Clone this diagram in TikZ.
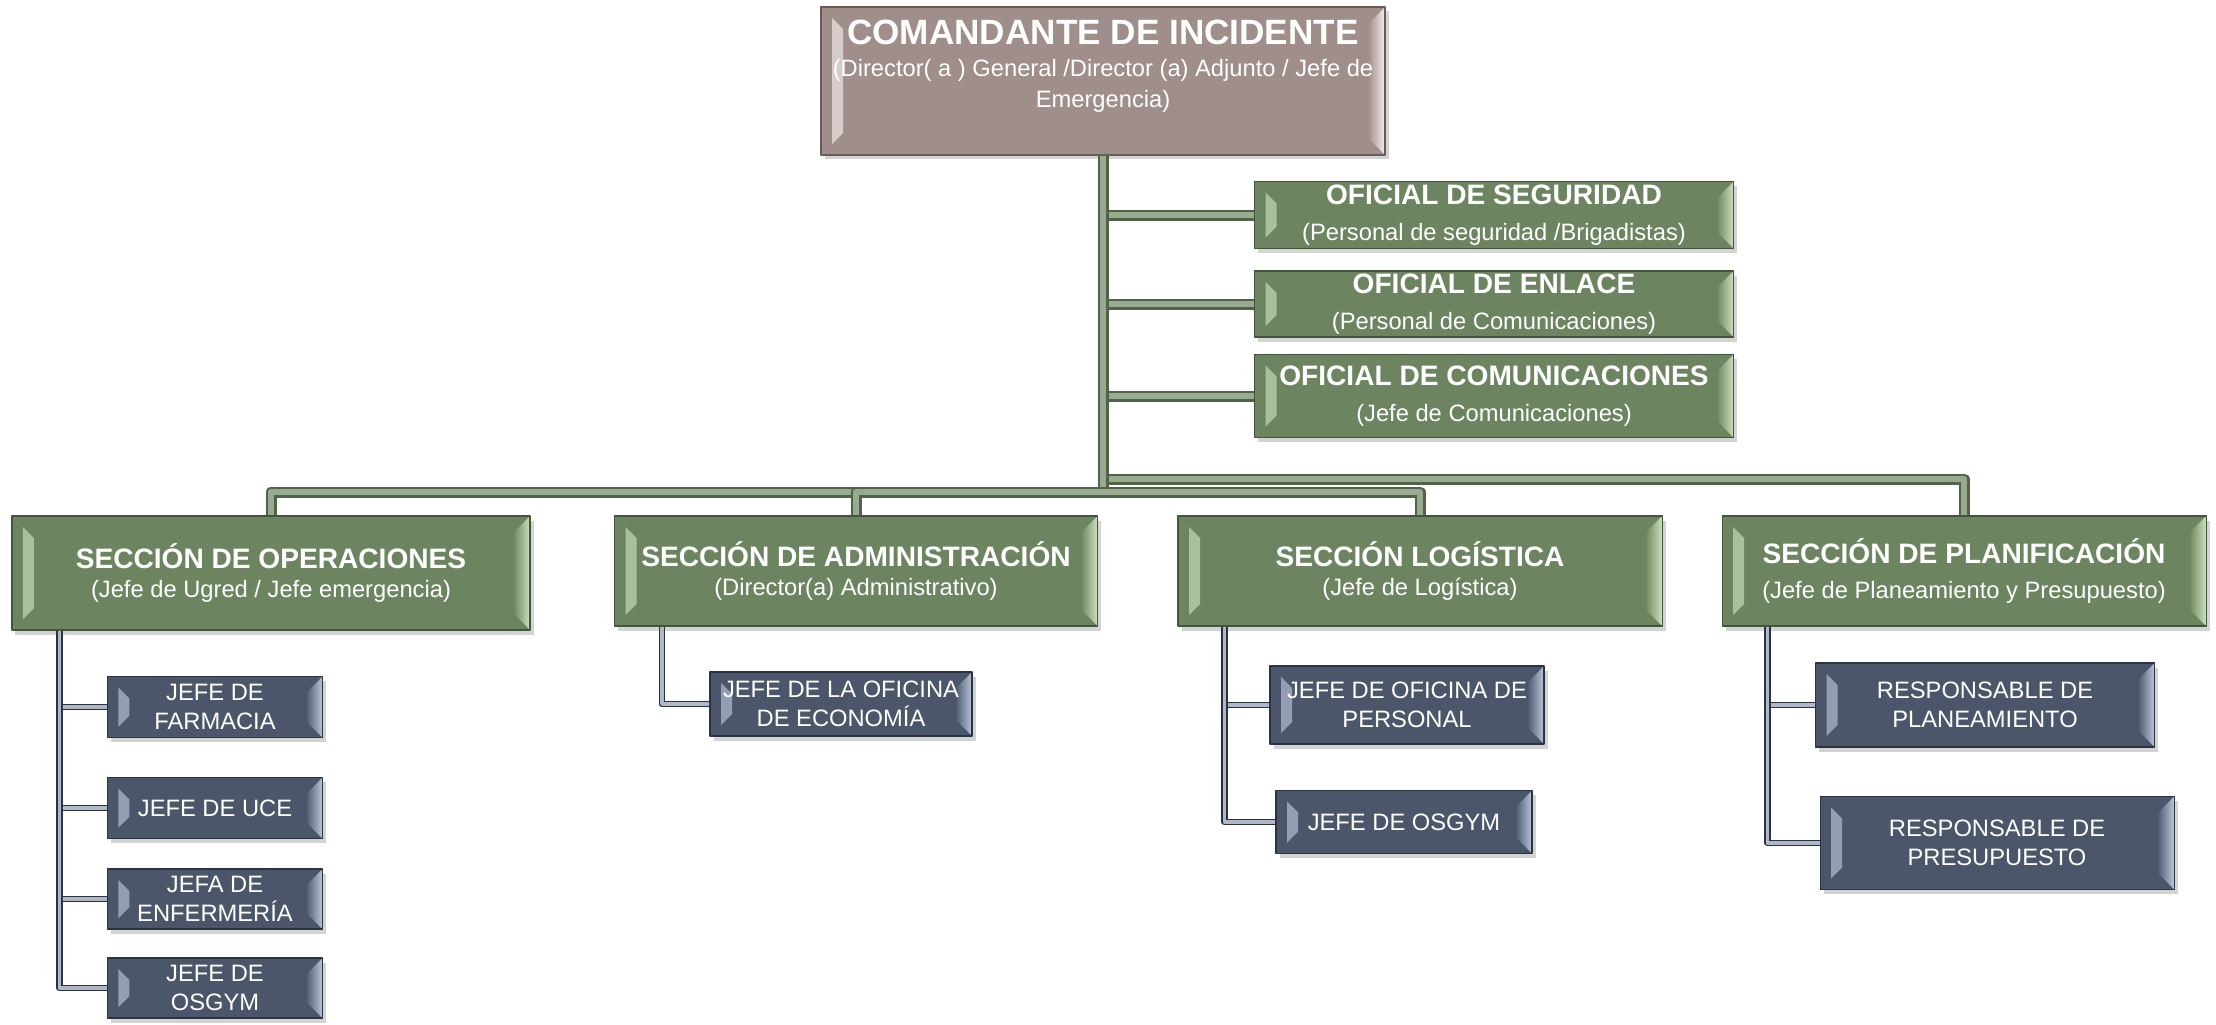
\documentclass[tikz,border=0pt]{standalone}
\usepackage{fontspec}
\setmainfont{Liberation Sans}
\usetikzlibrary{shadows}
\definecolor{cibox}{HTML}{9F8E8A}
\definecolor{cilight}{HTML}{F4EEEC}
\definecolor{cidark}{HTML}{6A5B57}
\definecolor{secgreen}{HTML}{6C8560}
\definecolor{seclight}{HTML}{CCE0BD}
\definecolor{secdark}{HTML}{43553A}
\definecolor{subslate}{HTML}{4C566B}
\definecolor{sublight}{HTML}{BAC6DA}
\definecolor{subdark}{HTML}{2B3342}
\newcommand\cmdttl{\bfseries\fontsize{20}{24}\selectfont}
\newcommand\secttl{\bfseries\fontsize{16}{19}\selectfont}
\tikzset{
  bevelbox/.style n args={3}{draw=#3, line width=0.6pt, fill=#1, text=white, inner sep=0pt, align=center,
    drop shadow={shadow xshift=0.07cm, shadow yshift=-0.09cm, opacity=0.35},
    path picture={
      \fill[#2, opacity=0.65] ([shift={(0.22cm,-0.22cm)}]path picture bounding box.north west)
        -- ([shift={(0.22cm,0.22cm)}]path picture bounding box.south west)
        -- ([shift={(0.44cm,0.44cm)}]path picture bounding box.south west)
        -- ([shift={(0.44cm,-0.44cm)}]path picture bounding box.north west) -- cycle;
      \shade[left color=#1, right color=#2] ([shift={(-0.34cm,-0.34cm)}]path picture bounding box.north east)
        -- (path picture bounding box.north east) -- (path picture bounding box.south east)
        -- ([shift={(-0.34cm,0.34cm)}]path picture bounding box.south east) -- cycle;
    }},
  cmdbox/.style={bevelbox={cibox}{cilight}{cidark}},
  secbox/.style={bevelbox={secgreen}{seclight}{secdark}},
  unitbox/.style={bevelbox={subslate}{sublight}{subdark}},
  sz/.style 2 args={minimum width=#1*0.02cm, minimum height=#2*0.02cm},
  gline/.style={draw=secgreen!75!black, line width=0.05cm, double=secgreen!70!white, double distance=0.12cm},
  sline/.style={draw=subdark, line width=0.03cm, double=sublight!80!gray, double distance=0.07cm},
}
\begin{document}
\begin{tikzpicture}[x=0.02cm,y=-0.02cm,font=\fontsize{13.5}{16.5}\selectfont,line join=round]
\useasboundingbox (0,0) rectangle (2216,1024);
% commander and officers
\node[cmdbox,sz={564}{148},text depth=0.7cm] (ci) at (1103,81) {{\cmdttl COMANDANTE DE INCIDENTE}\\[2pt](Director( a ) General /Director (a) Adjunto / Jefe de\\[1pt]Emergencia)};
\node[secbox,sz={479}{67}] (seg) at (1494,215) {{\secttl OFICIAL DE SEGURIDAD}\\[4pt](Personal de seguridad /Brigadistas)};
\node[secbox,sz={479}{66}] (enl) at (1494,304) {{\secttl OFICIAL DE ENLACE}\\[4pt](Personal de Comunicaciones)};
\node[secbox,sz={479}{83}] (com) at (1494,396) {{\secttl OFICIAL DE COMUNICACIONES}\\[4pt](Jefe de Comunicaciones)};
% sections
\node[secbox,sz={518}{114}] (ops) at (271,573) {{\secttl SECCIÓN DE OPERACIONES}\\(Jefe de Ugred / Jefe emergencia)};
\node[secbox,sz={483}{110}] (adm) at (856,571) {{\secttl SECCIÓN DE ADMINISTRACIÓN}\\(Director(a) Administrativo)};
\node[secbox,sz={484}{110}] (log) at (1420,571) {{\secttl SECCIÓN LOGÍSTICA}\\(Jefe de Logística)};
\node[secbox,sz={484}{110}] (plan) at (1964,571) {{\secttl SECCIÓN DE PLANIFICACIÓN}\\[3pt](Jefe de Planeamiento y Presupuesto)};
% units
\node[unitbox,sz={215}{61}] (farm) at (215,707) {JEFE DE\\FARMACIA};
\node[unitbox,sz={215}{61}] (uce) at (215,808) {JEFE DE UCE};
\node[unitbox,sz={215}{60}] (enf) at (215,899) {JEFA DE\\ENFERMERÍA};
\node[unitbox,sz={215}{60}] (osg1) at (215,988) {JEFE DE\\OSGYM};
\node[unitbox,sz={262}{64}] (eco) at (841,704) {JEFE DE LA OFICINA\\DE ECONOMÍA};
\node[unitbox,sz={274}{78}] (pers) at (1407,705) {JEFE DE OFICINA DE\\PERSONAL};
\node[unitbox,sz={256}{63}] (osg2) at (1404,822) {JEFE DE OSGYM};
\node[unitbox,sz={339}{84}] (rpla) at (1985,705) {RESPONSABLE DE\\PLANEAMIENTO};
\node[unitbox,sz={354}{93}] (rpre) at (1997,843) {RESPONSABLE DE\\PRESUPUESTO};
% connectors
\coordinate (busL) at (ci.south |- 0,492);
\coordinate (busR) at (ci.south |- 0,479);
\foreach \o in {seg,enl,com} \draw[gline] (ci.south |- \o.west) -- (\o.west);
\draw[gline] (ci.south) -- (busR) -| (plan.north);
\draw[gline] (ci.south) -- (busL) -| (ops.north);
\foreach \s in {adm,log} \draw[gline] (busL) -| (\s.north);
\foreach \u in {farm,uce,enf,osg1} \draw[sline] ([xshift=0.96cm]ops.south west) |- (\u.west);
\draw[sline] ([xshift=0.96cm]adm.south west) |- (eco.west);
\foreach \u in {pers,osg2} \draw[sline] ([xshift=0.94cm]log.south west) |- (\u.west);
\foreach \u in {rpla,rpre} \draw[sline] ([xshift=0.92cm]plan.south west) |- (\u.west);
\end{tikzpicture}
\end{document}
